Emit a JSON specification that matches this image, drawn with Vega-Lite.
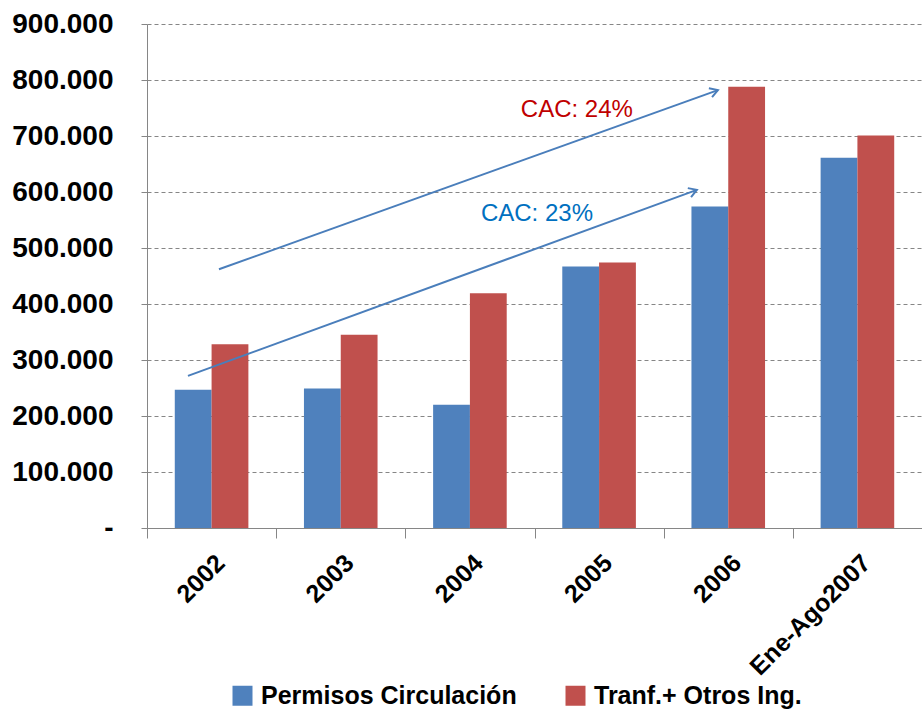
{
  "$schema": "https://vega.github.io/schema/vega-lite/v6.json",
  "autosize": "none",
  "width": 775,
  "height": 504,
  "padding": {"left": 147, "top": 24, "right": 0, "bottom": 181},
  "background": "white",
  "config": {"view": {"stroke": null}},
  "datasets": {
    "bars": [
      {"year": "2002", "serie": "Permisos Circulación", "value": 247000},
      {"year": "2002", "serie": "Tranf.+ Otros Ing.", "value": 328000},
      {"year": "2003", "serie": "Permisos Circulación", "value": 249000},
      {"year": "2003", "serie": "Tranf.+ Otros Ing.", "value": 345000},
      {"year": "2004", "serie": "Permisos Circulación", "value": 220000},
      {"year": "2004", "serie": "Tranf.+ Otros Ing.", "value": 419000},
      {"year": "2005", "serie": "Permisos Circulación", "value": 467000},
      {"year": "2005", "serie": "Tranf.+ Otros Ing.", "value": 474000},
      {"year": "2006", "serie": "Permisos Circulación", "value": 574000},
      {"year": "2006", "serie": "Tranf.+ Otros Ing.", "value": 788000},
      {"year": "Ene-Ago2007", "serie": "Permisos Circulación", "value": 661000},
      {"year": "Ene-Ago2007", "serie": "Tranf.+ Otros Ing.", "value": 701000}
    ],
    "arrows": [
      {"arrow": "a23", "pos": 0.317, "value": 271600},
      {"arrow": "a23", "pos": 4.257, "value": 603800},
      {"arrow": "a24", "pos": 0.557, "value": 462000},
      {"arrow": "a24", "pos": 4.42, "value": 782000}
    ],
    "heads": [
      {"arrow": "a23", "pos": 4.257, "value": 603800, "ang": 340},
      {"arrow": "a24", "pos": 4.42, "value": 782000, "ang": 340.4}
    ],
    "labels": [
      {"label": "CAC: 24%", "pos": 3.328, "value": 747000, "col": "#C00000"},
      {"label": "CAC: 23%", "pos": 3.019, "value": 561000, "col": "#0070C0"}
    ]
  },
  "layer": [
    {
      "data": {"name": "bars"},
      "mark": {"type": "bar"},
      "encoding": {
        "x": {
          "field": "year", "type": "nominal", "sort": null,
          "scale": {"paddingInner": 0, "paddingOuter": 0},
          "axis": {
            "title": null, "labelAngle": -45, "labelFont": "Liberation Sans", "labelFontWeight": "bold",
            "labelFontSize": 25, "labelColor": "#000000", "labelPadding": 12,
            "tickBand": "extent", "tickSize": 10, "tickColor": "#868686", "domainColor": "#868686",
            "grid": false
          }
        },
        "xOffset": {"field": "serie", "type": "nominal", "sort": null, "scale": {"paddingInner": 0, "paddingOuter": 0.755}},
        "y": {
          "field": "value", "type": "quantitative",
          "scale": {"domain": [0, 900000], "nice": false},
          "axis": {
            "title": null, "values": [0, 100000, 200000, 300000, 400000, 500000, 600000, 700000, 800000, 900000],
            "labelExpr": "datum.value == 0 ? '-\u00a0\u00a0\u00a0\u00a0' : format(datum.value / 1000, 'd') + '.000'",
            "labelFont": "Liberation Sans", "labelFontWeight": "bold", "labelFontSize": 28, "labelColor": "#000000",
            "labelPadding": 28, "tickSize": 6, "tickColor": "#868686", "domainColor": "#868686",
            "grid": true, "gridColor": "#868686", "gridDash": [4, 3], "gridWidth": 1
          }
        },
        "color": {
          "field": "serie", "type": "nominal", "sort": null,
          "scale": {"domain": ["Permisos Circulación", "Tranf.+ Otros Ing."], "range": ["#4F81BD", "#C0504D"]},
          "legend": {
            "title": null, "orient": "none", "direction": "horizontal", "legendX": 83, "legendY": 659,
            "symbolType": "square", "symbolSize": 400, "symbolStrokeWidth": 0, "symbolOpacity": 1,
            "labelFont": "Liberation Sans", "labelFontWeight": "bold", "labelFontSize": 25,
            "labelColor": "#000000", "columnPadding": 46, "labelOffset": 6, "labelLimit": 400
          }
        }
      }
    },
    {
      "data": {"name": "arrows"},
      "mark": {"type": "line", "color": "#4A7EBB", "strokeWidth": 2},
      "encoding": {
        "x": {"field": "pos", "type": "quantitative", "scale": {"domain": [0, 6], "nice": false, "zero": false}, "axis": null},
        "y": {"field": "value", "type": "quantitative"},
        "detail": {"field": "arrow"}
      }
    },
    {
      "data": {"name": "heads"},
      "mark": {"type": "point", "shape": "M -1 -0.6 L 0 0 L -1 0.6", "filled": false, "color": "#4A7EBB", "strokeWidth": 2, "size": 250, "opacity": 1},
      "encoding": {
        "x": {"field": "pos", "type": "quantitative", "scale": {"domain": [0, 6], "nice": false, "zero": false}, "axis": null},
        "y": {"field": "value", "type": "quantitative"},
        "angle": {"field": "ang", "type": "quantitative", "scale": null}
      }
    },
    {
      "data": {"name": "labels"},
      "mark": {"type": "text", "font": "Liberation Sans", "fontSize": 24, "align": "center", "baseline": "middle"},
      "encoding": {
        "x": {"field": "pos", "type": "quantitative", "scale": {"domain": [0, 6], "nice": false, "zero": false}, "axis": null},
        "y": {"field": "value", "type": "quantitative"},
        "text": {"field": "label"},
        "color": {"field": "col", "type": "nominal", "scale": null}
      }
    }
  ],
  "resolve": {"scale": {"x": "independent", "color": "independent"}}
}
